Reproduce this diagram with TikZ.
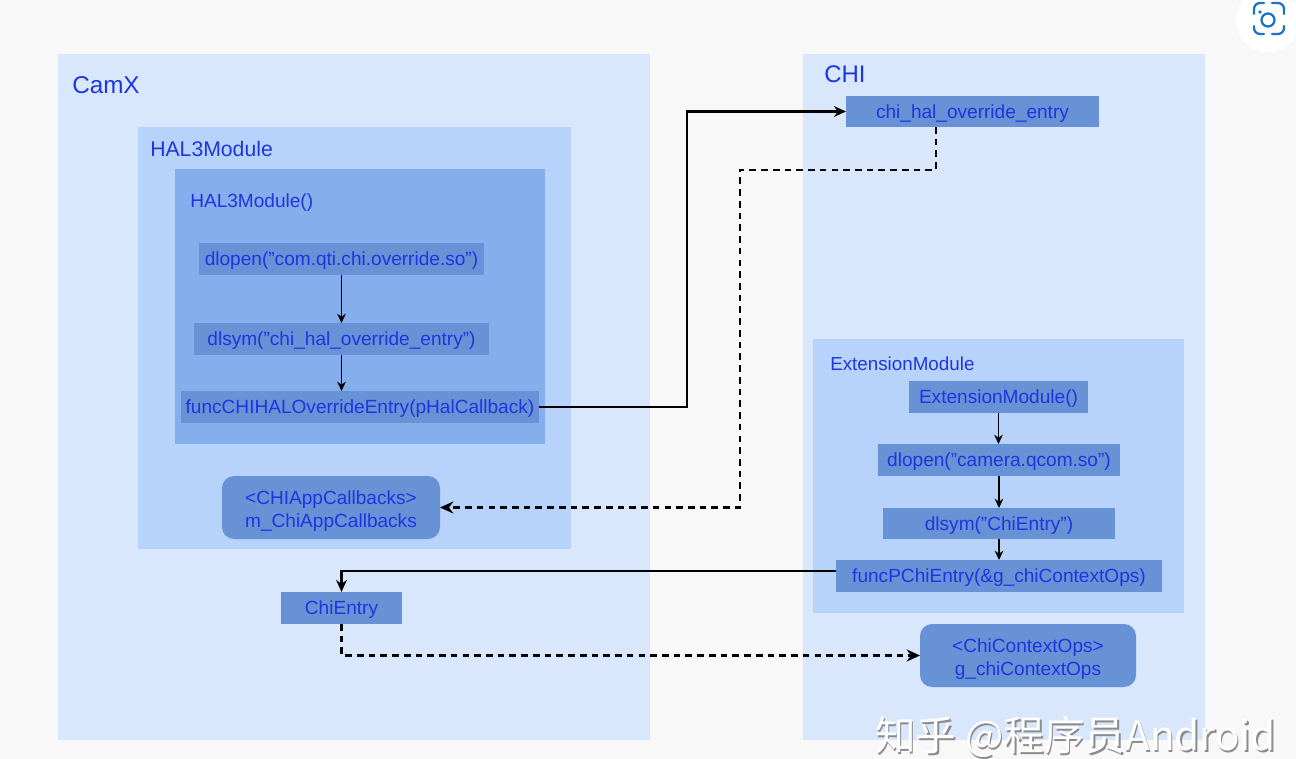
\documentclass[tikz,border=0pt]{standalone}
\usepackage{fontspec}
\setmainfont{Liberation Sans}
\newfontfamily\cjkfont{Noto Sans CJK SC}
\usetikzlibrary{arrows.meta,calc}
\definecolor{pagebg}{HTML}{F8F8F8}
\definecolor{panelA}{HTML}{D8E7FC}
\definecolor{panelB}{HTML}{B8D3FB}
\definecolor{panelC}{HTML}{85AEEC}
\definecolor{cellfill}{HTML}{6892D6}
\definecolor{labelblue}{HTML}{1F35E0}
\definecolor{lensblue}{HTML}{1A73C8}
\newcommand{\dq}{\symbol{34}}
\newcommand{\topgap}{\rule{0pt}{13pt}}
\newcommand{\pairgap}{\rule{0pt}{15.5pt}}
\tikzset{
  sz/.style 2 args={minimum width=#1*0.75pt,minimum height=#2*0.75pt},
  panel/.style={draw=none,inner sep=0pt,outer sep=0pt},
  cell/.style={draw=none,fill=cellfill,inner sep=0pt,outer sep=0pt,text=labelblue,font=\fontsize{14.3pt}{17.2pt}\selectfont,align=center},
  roundcell/.style={cell,rounded corners=9pt},
  title/.style={text=labelblue,inner sep=0pt,anchor=west},
  link/.style={draw=black,line width=1.6pt,-{Stealth[length=9pt,width=8pt]}},
  dashlink/.style={draw=black,line width=1.6pt,dash pattern=on 5pt off 3.8pt,-{Stealth[length=10pt,width=9pt]}},
  flow/.style={draw=black,line width=1.1pt,-{Stealth[length=7pt,width=6.5pt]}},
}
\begin{document}
\begin{tikzpicture}[x=0.75pt,y=-0.75pt]
\useasboundingbox (0,0) rectangle (1296,759);
\fill[pagebg] (0,0) rectangle (1296,759);

% Outer module panels
\node[panel,fill=panelA,sz={592}{686}] (camx) at (354,397) {};
\node[panel,fill=panelA,sz={402}{686}] (chi) at (1004,397) {};
\node[panel,fill=panelB,sz={433}{422}] (hal) at (354.5,338) {};
\node[panel,fill=panelC,sz={370}{275}] (halfn) at (360,306.5) {};
\node[panel,fill=panelB,sz={371}{274}] (ext) at (998.5,476) {};

% Panel titles
\node[title,font=\fontsize{18.2pt}{20pt}\selectfont] (camxT) at (72,85) {CamX};
\node[title,font=\fontsize{18pt}{20pt}\selectfont] (chiT) at (824,74) {CHI};
\node[title,font=\fontsize{15.9pt}{18pt}\selectfont] (halT) at (150,149) {HAL3Module};
\node[title,font=\fontsize{14.3pt}{17pt}\selectfont] (halfnT) at (190,203) {HAL3Module()};
\node[title,font=\fontsize{14.1pt}{17pt}\selectfont] (extT) at (830,364) {ExtensionModule};

% CamX cells
\node[cell,sz={285}{32}] (dlopenA) at (341.5,259) {\topgap dlopen(\dq com.qti.chi.override.so\dq)};
\node[cell,sz={295}{32}] (dlsymA) at (341.5,339) {\topgap dlsym(\dq chi\_hal\_override\_entry\dq)};
\node[cell,sz={358}{32}] (funcA) at (360,407) {\topgap funcCHIHALOverrideEntry(pHalCallback)};
\node[roundcell,sz={218}{63}] (callbacks) at (331,507.5) {\pairgap <CHIAppCallbacks>\\m\_ChiAppCallbacks};
\node[cell,sz={121}{32}] (chientry) at (341.5,608) {\topgap ChiEntry};

% CHI cells
\node[cell,sz={253}{31}] (override) at (972.5,111.5) {\topgap chi\_hal\_override\_entry};
\node[cell,sz={179}{32}] (extctor) at (998.5,397) {\topgap ExtensionModule()};
\node[cell,sz={242}{32}] (dlopenB) at (999,460) {\topgap dlopen(\dq camera.qcom.so\dq)};
\node[cell,sz={232}{31}] (dlsymB) at (999,523.5) {\topgap dlsym(\dq ChiEntry\dq)};
\node[cell,sz={326}{32}] (funcB) at (999,576) {\topgap funcPChiEntry(\&g\_chiContextOps)};
\node[roundcell,sz={216}{63}] (ops) at (1028,655.5) {\pairgap <ChiContextOps>\\g\_chiContextOps};

% Call order inside each constructor
\draw[flow] (dlopenA) -- (dlsymA);
\draw[flow] (dlsymA) -- (dlsymA|-funcA.north);
\draw[flow] (extctor) -- (extctor|-dlopenB.north);
\draw[flow] (dlopenB) -- (dlsymB);
\draw[flow] (dlsymB) -- (funcB);

% Links between the two libraries
\draw[link] (funcA.east) -- ++(148,0) |- (override.west);
\draw[dashlink] ([xshift=-36.5*0.75pt]override.south) |- (740,170) |- (callbacks.east);
\draw[link] ([yshift=5*0.75pt]funcB.west) -| (chientry.north);
\draw[dashlink] (chientry.south) |- (ops.west);

% Lens badge in the corner
\fill[white] (1268,20) circle[radius=32*0.75pt];
\begin{scope}[draw=lensblue,line width=1.7pt,line cap=round]
  \draw (1254,14) -- (1254,9) arc[start angle=180,end angle=90,radius=4.5pt] -- (1264,3);
  \draw (1272,3) -- (1278,3) arc[start angle=90,end angle=0,radius=4.5pt] -- (1284,14);
  \draw (1284,26) -- (1284,28) arc[start angle=0,end angle=-90,radius=4.5pt] -- (1272,34);
  \draw (1264,34) -- (1260,34) arc[start angle=270,end angle=180,radius=4.5pt] -- (1254,26);
  \draw (1268,20) circle[radius=6.5*0.75pt];
\end{scope}
\fill[lensblue] (1260,12) circle[radius=1.8*0.75pt];

% Site credit with a soft drop edge
\node[inner sep=0pt,anchor=west,text=black!45,font=\cjkfont\fontsize{30.4pt}{32pt}\selectfont] (creditS) at (876.5,738.5) {知乎 @程序员Android};
\node[inner sep=0pt,anchor=west,text=white,font=\cjkfont\fontsize{30.4pt}{32pt}\selectfont] (credit) at (875,737) {知乎 @程序员Android};
\end{tikzpicture}
\end{document}
